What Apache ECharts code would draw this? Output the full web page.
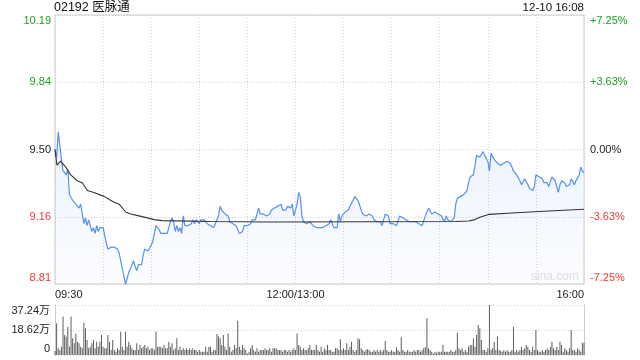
<!DOCTYPE html>
<html>
<head>
<meta charset="utf-8">
<script src="https://cdn.jsdelivr.net/npm/echarts@6/dist/echarts.min.js"></script>
<style>
html,body{margin:0;padding:0;background:#fff;}
#chart{width:640px;height:360px;}
</style>
</head>
<body>
<div id="chart"></div>
<script>
// ---- data ----
const stockTitle = '02192 医脉通';
const stampText = '12-10 16:08';
const prevClose = 9.50;
const priceLabels = ['8.81', '9.16', '9.50', '9.84', '10.19'];
const pctLabels = ['-7.25%', '-3.63%', '0.00%', '+3.63%', '+7.25%'];
const volLabels = ['0', '18.62万', '37.24万'];
const timeTicks = [0, 150, 330];
const timeLabels = ['09:30', '12:00/13:00', '16:00'];

// price per minute (09:30 .. 16:00, lunch merged)
const prices = [
  9.50, 9.46, 9.59, 9.60, 9.45, 9.39, 9.39, 9.37, 9.40, 9.27,
  9.26, 9.24, 9.25, 9.22, 9.23, 9.20, 9.22, 9.17, 9.12, 9.15,
  9.11, 9.14, 9.11, 9.08, 9.10, 9.07, 9.11, 9.08, 9.10, 9.11,
  9.10, 9.06, 9.02, 8.99, 9.00, 9.00, 8.99, 9.00, 9.00, 8.99,
  8.97, 8.93, 8.89, 8.85, 8.81, 8.84, 8.87, 8.89, 8.91, 8.93,
  8.90, 8.88, 8.91, 8.90, 8.91, 8.96, 8.99, 8.99, 8.98, 8.98,
  9.01, 9.03, 9.07, 9.11, 9.11, 9.09, 9.07,
  9.08, 9.07, 9.08, 9.07, 9.10, 9.13, 9.15, 9.13, 9.08, 9.11,
  9.08, 9.10, 9.07, 9.16, 9.11, 9.12, 9.11, 9.12, 9.12, 9.14,
  9.12, 9.14, 9.14, 9.12, 9.14, 9.13, 9.14, 9.13, 9.12, 9.11,
  9.11, 9.11, 9.10, 9.12, 9.14, 9.16, 9.21, 9.19, 9.18, 9.17,
  9.18, 9.16, 9.13, 9.13, 9.12, 9.11, 9.11, 9.10, 9.07, 9.08,
  9.08, 9.11, 9.11, 9.11, 9.12, 9.12, 9.14, 9.13, 9.14, 9.14,
  9.20, 9.17, 9.18, 9.17, 9.18, 9.16,
  9.17, 9.17, 9.19, 9.20, 9.20, 9.21, 9.21, 9.20, 9.22, 9.19,
  9.20, 9.19, 9.21, 9.22, 9.20, 9.22, 9.16, 9.19, 9.22, 9.28,
  9.26, 9.16, 9.13, 9.13, 9.12, 9.12, 9.13, 9.12, 9.11, 9.11,
  9.10, 9.09, 9.10, 9.11, 9.10, 9.09, 9.11, 9.11, 9.12, 9.14,
  9.12, 9.10, 9.10, 9.10, 9.17, 9.13, 9.16, 9.17, 9.18, 9.18,
  9.19, 9.21, 9.22, 9.24, 9.26, 9.25, 9.24, 9.24, 9.19, 9.17,
  9.18, 9.16, 9.16, 9.17, 9.17, 9.16,
  9.14, 9.13, 9.13, 9.13, 9.13, 9.11, 9.11, 9.17, 9.17, 9.16,
  9.12, 9.12, 9.12, 9.11, 9.11, 9.11, 9.16, 9.17, 9.15, 9.14,
  9.14, 9.14, 9.13, 9.13, 9.13, 9.13, 9.13, 9.12, 9.12, 9.13,
  9.11, 9.11, 9.16, 9.18, 9.20, 9.20, 9.17, 9.17, 9.18, 9.17,
  9.17, 9.16, 9.16, 9.15, 9.13, 9.16, 9.14, 9.13, 9.13, 9.13,
  9.15, 9.22, 9.25, 9.24, 9.26, 9.27, 9.27, 9.28, 9.29, 9.33,
  9.36, 9.35, 9.37, 9.42, 9.47, 9.47,
  9.46, 9.45, 9.49, 9.47, 9.47, 9.44, 9.39, 9.48, 9.47, 9.45,
  9.45, 9.43, 9.42, 9.42, 9.42, 9.43, 9.44, 9.44, 9.43, 9.43,
  9.41, 9.39, 9.38, 9.37, 9.37, 9.34, 9.32, 9.33, 9.35, 9.34,
  9.32, 9.30, 9.29, 9.29, 9.31, 9.37, 9.38, 9.36, 9.36, 9.35,
  9.33, 9.33, 9.33, 9.31, 9.32, 9.36, 9.37, 9.34, 9.33, 9.28,
  9.32, 9.34, 9.33, 9.33, 9.31, 9.30, 9.32, 9.35, 9.35, 9.32,
  9.34, 9.35, 9.37, 9.41, 9.39, 9.38
];

// average price line, read at sample minutes
const avgMinutes = [0, 1.2, 3.5, 6.7, 9.8, 13.9, 17, 20.2, 24.3, 30.6, 36.8, 40, 44.1, 47.2, 52.4, 57.6, 61.8, 66.7, 97, 133, 200, 250, 258, 262, 265, 271, 285, 305, 330];
const avgValues  = [9.50, 9.42, 9.44, 9.41, 9.37, 9.34, 9.33, 9.29, 9.28, 9.26, 9.23, 9.22, 9.18, 9.17, 9.16, 9.15, 9.141, 9.136, 9.131, 9.129, 9.13, 9.131, 9.134, 9.141, 9.153, 9.168, 9.175, 9.184, 9.194];

// volume per minute, in 万
const volumes = [
  3.0, 23.6, 5.0, 3.7, 6.2, 28.6, 14.9, 13.7, 21.1, 6.2,
  28.6, 12.4, 8.7, 16.1, 9.9, 8.7, 6.2, 5.0, 24.1, 20.0,
  11.2, 5.0, 6.2, 8.7, 11.2, 5.0, 9.9, 6.2, 9.9, 14.9,
  6.2, 5.0, 5.0, 14.9, 9.9, 3.7, 11.2, 3.7, 2.5, 5.0,
  3.7, 17.4, 6.2, 3.7, 17.4, 6.2, 9.9, 7.4, 5.0, 3.7,
  3.7, 8.7, 3.7, 7.4, 5.0, 6.2, 7.4, 5.0, 6.2, 3.7,
  5.0, 5.0, 3.7, 17.4, 6.2, 6.2, 6.2, 5.0, 7.4, 5.0,
  5.0, 9.9, 6.2, 8.7, 3.7, 5.0, 12.4, 3.7, 6.2, 3.7,
  5.0, 3.7, 5.0, 3.7, 5.0, 3.7, 5.0, 3.7, 3.7, 2.5,
  3.7, 2.5, 2.5, 2.5, 6.2, 2.5, 6.2, 6.2, 2.5, 3.7,
  3.7, 15.6, 13.7, 12.4, 7.4, 14.9, 6.2, 3.7, 16.1, 6.2,
  2.5, 3.7, 7.4, 5.0, 25.6, 6.2, 3.7, 7.4, 5.0, 3.7,
  1.2, 2.5, 5.0, 7.4, 3.7, 2.5, 5.0, 2.5, 3.7, 3.7,
  3.7, 5.0, 3.7, 3.7, 5.0, 2.5, 5.0, 5.0, 5.0, 3.7,
  3.7, 3.7, 2.5, 3.7, 3.7, 2.5, 3.7, 2.5, 3.7, 5.0,
  3.7, 16.1, 7.4, 6.2, 3.7, 5.0, 3.7, 3.7, 5.0, 7.4,
  3.7, 3.7, 3.7, 7.4, 3.7,
  2.5, 6.2, 2.5, 5.0, 3.7, 7.4, 3.7, 3.7, 2.5, 2.5,
  5.0, 5.0, 3.7, 11.7, 3.7, 5.0, 3.7, 8.7, 3.7, 6.2,
  9.9, 3.7, 2.5, 3.7, 12.4, 11.7, 5.0, 3.7, 2.5, 3.7,
  4.2, 3.7, 2.5, 2.5, 3.7, 2.5, 3.7, 2.5, 3.7, 2.5,
  3.7, 10.4, 3.7, 2.5, 2.5, 3.7, 2.5, 2.5, 5.7, 3.7,
  2.5, 13.2, 3.7, 2.5, 2.5, 3.7, 2.5, 2.5, 2.5, 3.7,
  2.5, 3.7, 3.7, 2.5, 3.7, 5.0, 5.7, 27.3, 5.0, 3.7,
  2.5, 1.2, 2.5, 1.7, 2.5, 2.5, 2.5, 7.4, 2.5, 2.5,
  2.5, 2.5, 3.7, 2.5, 2.5, 3.7, 16.6, 5.0, 3.7, 5.0,
  2.5, 3.7, 2.5, 6.2, 7.4, 7.4, 12.4, 6.2, 14.9, 22.3,
  19.9, 11.2, 3.7, 3.7, 2.5, 5.0, 37.24, 3.7, 5.0, 9.9,
  3.7, 13.7, 3.7, 3.2, 2.5, 3.7, 2.5, 3.7, 2.5, 2.5,
  3.7, 21.1, 2.5, 3.7, 2.5, 3.7, 6.2, 3.7, 5.0, 7.4,
  6.2, 3.7, 2.5, 6.2, 3.7, 18.6, 3.7, 2.5, 2.5, 3.7,
  2.5, 3.7, 5.0, 3.7, 6.2, 9.9, 5.0, 3.7, 6.2, 3.7,
  9.9, 7.4, 2.5, 5.0, 3.7, 2.5, 5.0, 18.6, 3.7, 3.7,
  2.5, 5.0, 3.7, 2.5, 9.2, 9.2
];

// ---- chart ----
const FONT = "'Liberation Sans', Arial, 'Noto Sans CJK SC', sans-serif";
const GREEN = '#1f9e1f';
const RED = '#f03a3a';
const BLACK = '#222';
const span = 0.344375;

const chart = echarts.init(document.getElementById('chart'), null, {renderer: 'canvas'});

const priceRich = {
  g: {color: GREEN, fontSize: 11, fontFamily: FONT},
  gt: {color: GREEN, fontSize: 11, fontFamily: FONT, padding: [12, 0, 0, 0]},
  k: {color: BLACK, fontSize: 11, fontFamily: FONT},
  r: {color: RED, fontSize: 11, fontFamily: FONT},
  rb: {color: RED, fontSize: 11, fontFamily: FONT, padding: [0, 0, 12, 0]}
};
const styleKeys = ['rb', 'r', 'k', 'g', 'gt'];
const volRich = {
  t: {color: BLACK, fontSize: 11, fontFamily: FONT, padding: [12, 0, 0, 0]},
  m: {color: BLACK, fontSize: 11, fontFamily: FONT},
  b: {color: BLACK, fontSize: 11, fontFamily: FONT, padding: [0, 0, 12, 0]}
};
const volKeys = ['b', 'm', 't'];

const option = {
  animation: false,
  backgroundColor: '#fff',
  textStyle: {fontFamily: FONT},
  title: [
    {text: stockTitle, left: 54, top: 1, padding: 0,
     textStyle: {fontSize: 12.5, fontWeight: 'normal', color: '#111', fontFamily: FONT}},
    {text: stampText, right: 56, top: 2, padding: 0,
     textStyle: {fontSize: 11.5, fontWeight: 'normal', color: '#111', fontFamily: FONT}}
  ],
  grid: [
    {left: 55, right: 56, top: 15, height: 269, show: true, borderColor: '#cccccc', borderWidth: 1, backgroundColor: 'transparent'},
    {left: 55, right: 56, top: 305, height: 50}
  ],
  xAxis: [
    {gridIndex: 0, type: 'value', min: 0, max: 330, interval: 30,
     axisLine: {show: false}, axisTick: {show: false},
     splitLine: {show: true, lineStyle: {color: '#d2d2d2', type: [1, 2], width: 1}},
     axisLabel: {show: true, color: BLACK, fontSize: 11, fontFamily: FONT, margin: 5,
       showMinLabel: true, showMaxLabel: true, alignMinLabel: 'left', alignMaxLabel: 'right',
       formatter: function (v) { const k = timeTicks.indexOf(Math.round(v)); return k >= 0 ? timeLabels[k] : ''; }}},
    {gridIndex: 1, type: 'value', min: 0, max: 330, interval: 30,
     axisLine: {show: false}, axisTick: {show: false}, splitLine: {show: false}, axisLabel: {show: false}}
  ],
  yAxis: [
    {gridIndex: 0, type: 'value', position: 'left', min: -2 * span, max: 2 * span, interval: span,
     axisLine: {show: false}, axisTick: {show: false},
     splitLine: {show: true, lineStyle: {color: '#cfcfcf', type: [1, 2], width: 1}},
     axisLabel: {margin: 4, formatter: function (v, i) { return '{' + styleKeys[i] + '|' + priceLabels[i] + '}'; }, rich: priceRich}},
    {gridIndex: 0, type: 'value', position: 'right', min: -2 * span, max: 2 * span, interval: span,
     axisLine: {show: false}, axisTick: {show: false}, splitLine: {show: false},
     axisLabel: {margin: 6, formatter: function (v, i) { return '{' + styleKeys[i] + '|' + pctLabels[i] + '}'; }, rich: priceRich}},
    {gridIndex: 1, type: 'value', position: 'left', min: 0, max: 37.24, interval: 18.62,
     axisLine: {show: true, lineStyle: {color: '#cccccc'}}, axisTick: {show: false},
     splitLine: {show: true, lineStyle: {color: '#cfcfcf', type: [1, 2], width: 1}},
     axisLabel: {margin: 5, formatter: function (v, i) { return '{' + volKeys[i] + '|' + volLabels[i] + '}'; }, rich: volRich}},
    {gridIndex: 1, type: 'value', position: 'right', min: 0, max: 37.24, interval: 18.62,
     axisLine: {show: true, lineStyle: {color: '#cccccc'}}, axisTick: {show: false},
     splitLine: {show: false}, axisLabel: {show: false}}
  ],
  series: [
    {type: 'line', xAxisIndex: 0, yAxisIndex: 0, showSymbol: false, symbol: 'none',
     data: prices.map(function (p, i) { return [i, p - prevClose]; }),
     lineStyle: {color: '#5591f0', width: 1.2},
     areaStyle: {origin: 'start', color: new echarts.graphic.LinearGradient(0, 0, 0, 1, [
       {offset: 0, color: 'rgba(80,140,240,0.16)'},
       {offset: 1, color: 'rgba(80,140,240,0.03)'}
     ])},
     z: 3},
    {type: 'line', xAxisIndex: 0, yAxisIndex: 0, showSymbol: false, symbol: 'none',
     data: avgMinutes.map(function (t, i) { return [t, avgValues[i] - prevClose]; }),
     lineStyle: {color: '#333333', width: 1.1}, z: 4},
    {type: 'bar', xAxisIndex: 1, yAxisIndex: 2, barWidth: 1,
     data: volumes.map(function (v, i) { return [i, v]; }),
     itemStyle: {color: '#5e5e5e'}}
  ],
  graphic: [
    {type: 'text', left: 531, top: 271, z: 10,
     style: {text: 'sina.com', fill: '#dcdcdc', font: '12px ' + FONT}}
  ]
};
chart.setOption(option);
</script>
</body>
</html>
